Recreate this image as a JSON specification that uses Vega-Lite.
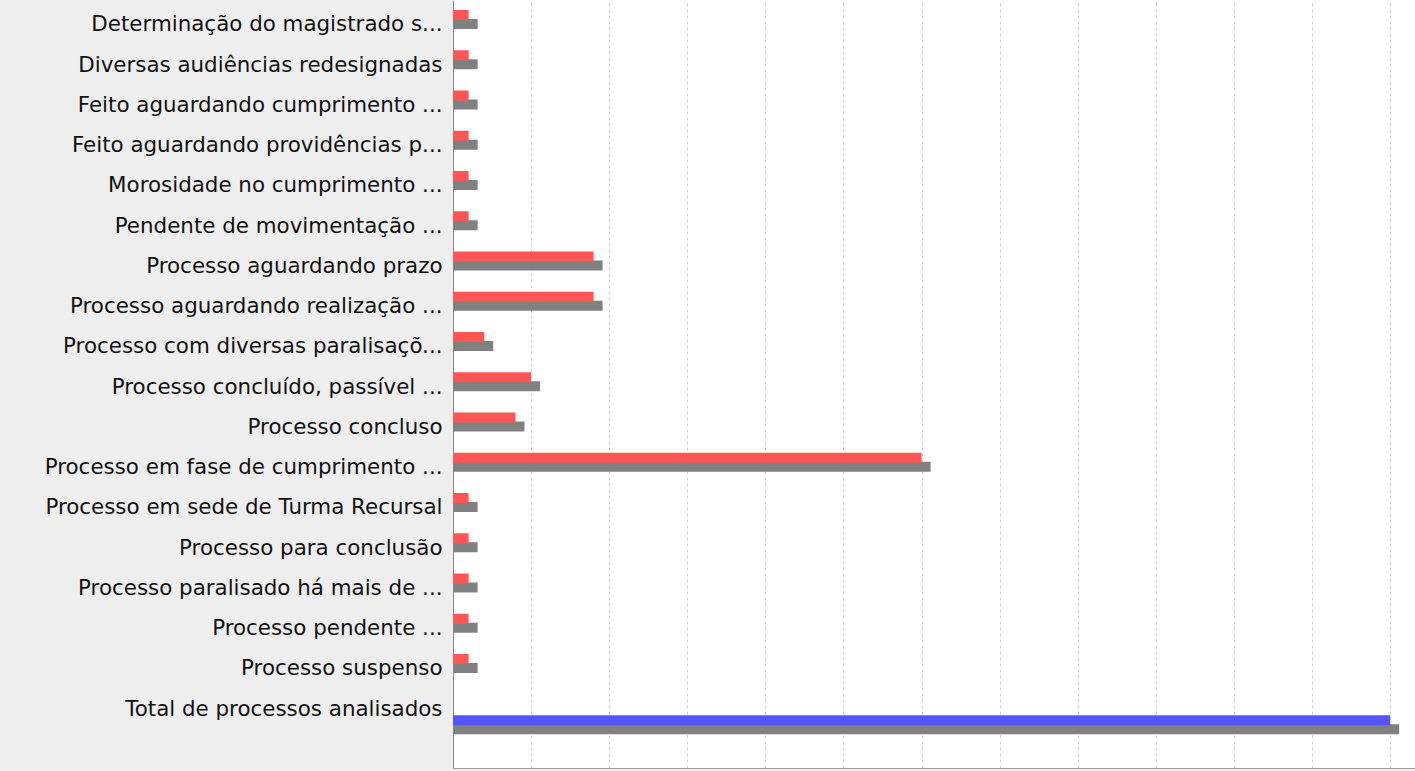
{
  "$schema": "https://vega.github.io/schema/vega-lite/v6.json",
  "width": 962,
  "height": 768,
  "autosize": {"type": "none"},
  "padding": {"left": 453, "top": 0, "right": 0, "bottom": 3},
  "background": "#eeeeee",
  "view": {"fill": "white", "stroke": null},
  "data": {
    "values": [
      {"categoria": "Determinação do magistrado s...", "valor": 1, "serie": "vermelho"},
      {"categoria": "Diversas audiências redesignadas", "valor": 1, "serie": "vermelho"},
      {"categoria": "Feito aguardando cumprimento ...", "valor": 1, "serie": "vermelho"},
      {"categoria": "Feito aguardando providências p...", "valor": 1, "serie": "vermelho"},
      {"categoria": "Morosidade no cumprimento ...", "valor": 1, "serie": "vermelho"},
      {"categoria": "Pendente de movimentação ...", "valor": 1, "serie": "vermelho"},
      {"categoria": "Processo aguardando prazo", "valor": 9, "serie": "vermelho"},
      {"categoria": "Processo aguardando realização ...", "valor": 9, "serie": "vermelho"},
      {"categoria": "Processo com diversas paralisaçõ...", "valor": 2, "serie": "vermelho"},
      {"categoria": "Processo concluído, passível ...", "valor": 5, "serie": "vermelho"},
      {"categoria": "Processo concluso", "valor": 4, "serie": "vermelho"},
      {"categoria": "Processo em fase de cumprimento ...", "valor": 30, "serie": "vermelho"},
      {"categoria": "Processo em sede de Turma Recursal", "valor": 1, "serie": "vermelho"},
      {"categoria": "Processo para conclusão", "valor": 1, "serie": "vermelho"},
      {"categoria": "Processo paralisado há mais de ...", "valor": 1, "serie": "vermelho"},
      {"categoria": "Processo pendente ...", "valor": 1, "serie": "vermelho"},
      {"categoria": "Processo suspenso", "valor": 1, "serie": "vermelho"},
      {"categoria": "Total de processos analisados", "valor": 60, "serie": "azul"}
    ]
  },
  "encoding": {
    "y": {
      "field": "categoria",
      "type": "nominal",
      "sort": null,
      "scale": {"paddingInner": 0.2, "paddingOuter": 0.6404, "align": 0.1823, "round": false},
      "axis": {
        "title": null,
        "ticks": false,
        "grid": false,
        "labelPadding": 11,
        "labelFont": "DejaVu Sans",
        "labelFontSize": 21.4,
        "labelColor": "#111111",
        "labelLimit": 700,
        "labelOffset": 0,
        "domainColor": "#888888",
        "domainWidth": 1
      }
    },
    "x": {
      "field": "valor",
      "type": "quantitative",
      "scale": {"domain": [0, 61.59], "nice": false, "zero": true},
      "axis": {
        "title": null,
        "labels": false,
        "ticks": false,
        "values": [5, 10, 15, 20, 25, 30, 35, 40, 45, 50, 55, 60],
        "grid": true,
        "gridDash": [3, 3],
        "gridColor": "#cccccc",
        "gridWidth": 1,
        "domainColor": "#999999",
        "domainWidth": 1
      }
    }
  },
  "layer": [
    {
      "transform": [{"filter": "datum.serie == 'vermelho'"}],
      "mark": {"type": "bar", "height": 10, "yOffset": -1.5, "xOffset": 9, "x2Offset": 0, "color": "#808080"},
      "encoding": {"x2": {"datum": 0}}
    },
    {
      "transform": [{"filter": "datum.serie == 'azul'"}],
      "mark": {"type": "bar", "height": 10, "yOffset": 19.5, "xOffset": 9, "x2Offset": 0, "color": "#808080"},
      "encoding": {"x2": {"datum": 0}}
    },
    {
      "transform": [{"filter": "datum.serie == 'vermelho'"}],
      "mark": {"type": "bar", "height": 10, "yOffset": -10.5, "color": "#ff5555"},
      "encoding": {}
    },
    {
      "transform": [{"filter": "datum.serie == 'azul'"}],
      "mark": {"type": "bar", "height": 10, "yOffset": 10.5, "color": "#5555ff"},
      "encoding": {}
    }
  ]
}
